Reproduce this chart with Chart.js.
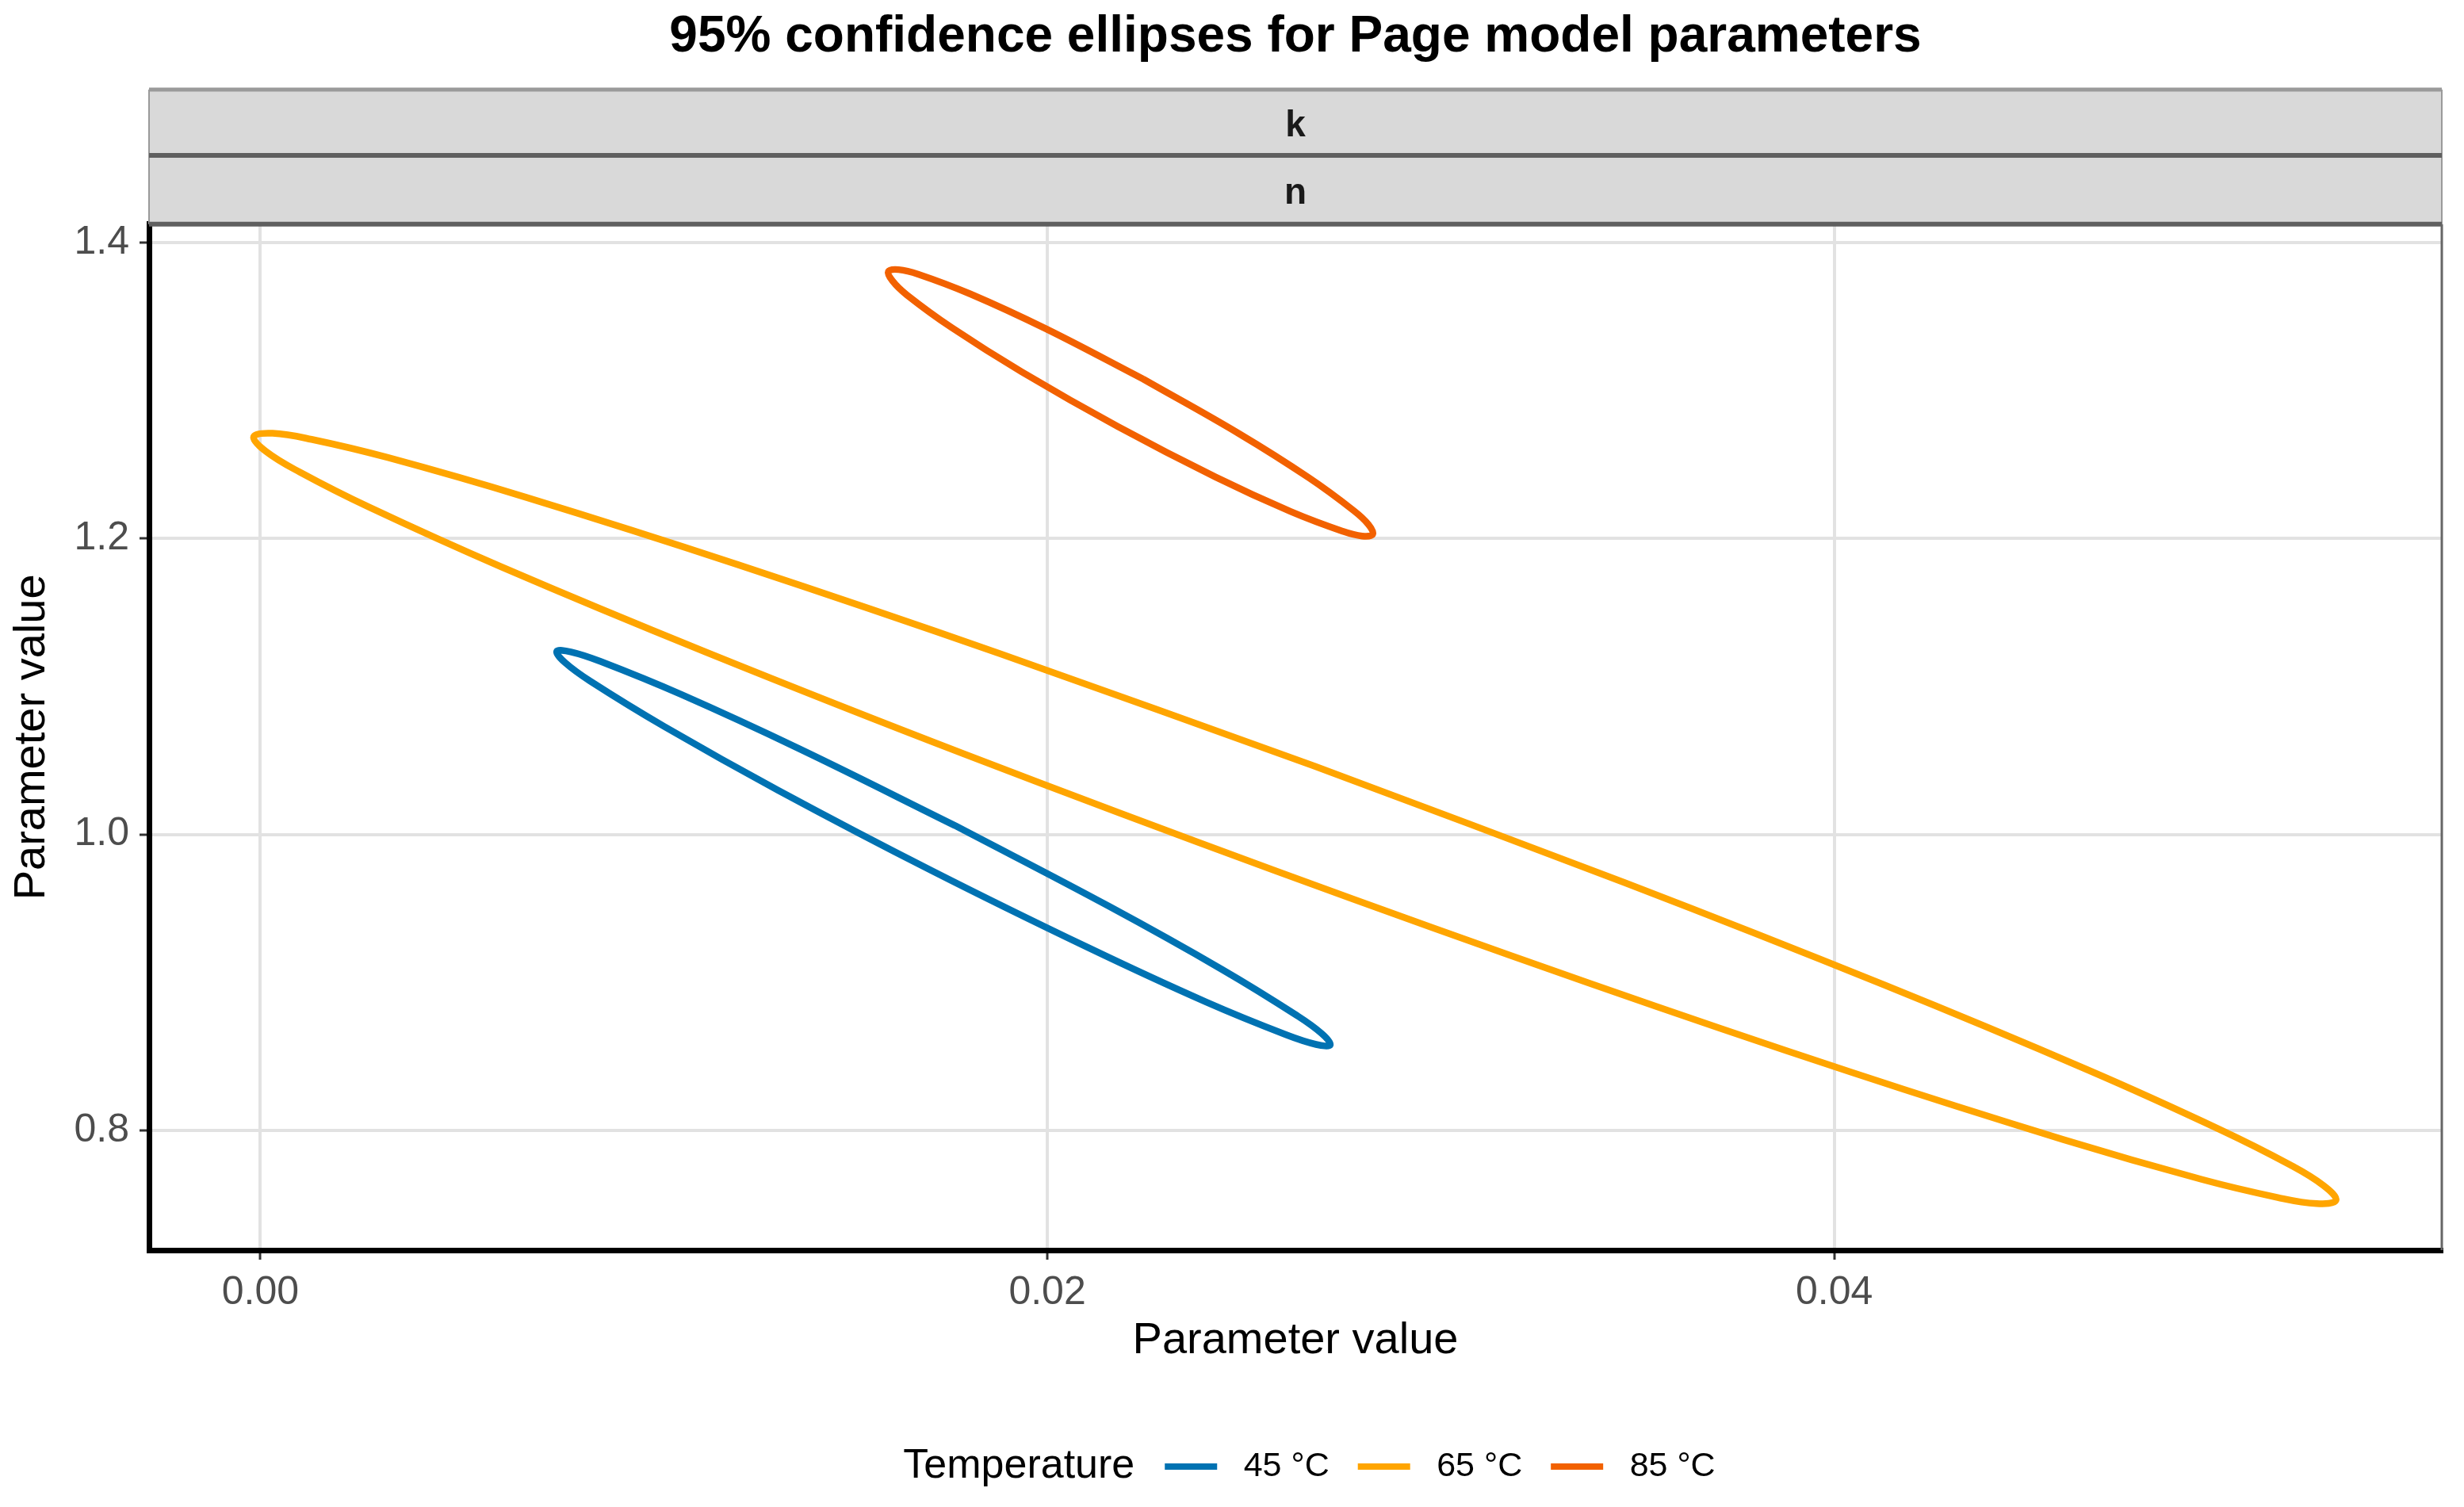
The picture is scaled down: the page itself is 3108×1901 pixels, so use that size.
<!DOCTYPE html>
<html>
<head>
<meta charset="utf-8">
<script src="https://cdn.jsdelivr.net/npm/chart.js@4/dist/chart.umd.min.js"></script>
<style>
  html, body { margin: 0; padding: 0; background: #ffffff; overflow: hidden; }
  canvas { display: block; }
</style>
</head>
<body>
<canvas id="ellipse-chart" width="3108" height="1901"></canvas>
<script>
// values (k on x, n on y), one closed loop per temperature
const tempLabels = ['45 °C', '65 °C', '85 °C'];
const tempColors = ['#0072B2', '#FFA500', '#F26100'];

const kAt45 = [0.01765, 0.02156, 0.02445, 0.02634, 0.02697, 0.02719, 0.02683, 0.02608, 0.02403, 0.02103, 0.01707,
               0.01316, 0.01027, 0.00838, 0.00775, 0.00753, 0.00789, 0.00864, 0.01069, 0.01370, 0.01765];
const nAt45 = [1.0060, 0.9515, 0.9086, 0.8777, 0.8655, 0.8578, 0.8581, 0.8645, 0.8868, 0.9236, 0.9754,
               1.0298, 1.0728, 1.1036, 1.1159, 1.1236, 1.1233, 1.1169, 1.0946, 1.0578, 1.0060];

const kAt65 = [0.02678, 0.03469, 0.04125, 0.04646, 0.04980, 0.05158, 0.05243, 0.05275, 0.05226, 0.05127, 0.04934,
               0.04581, 0.04043, 0.03376, 0.02580, 0.01788, 0.01133, 0.00612, 0.00277, 0.00100, 0.00014,
               -0.00017, 0.00031, 0.00130, 0.00324, 0.00677, 0.01214, 0.01882, 0.02678];
const nAt65 = [1.0462, 0.9672, 0.8985, 0.8407, 0.8006, 0.7768, 0.7628, 0.7528, 0.7506, 0.7547, 0.7669,
               0.7939, 0.8393, 0.8996, 0.9754, 1.0544, 1.1231, 1.1808, 1.2210, 1.2448, 1.2588,
               1.2687, 1.2710, 1.2669, 1.2546, 1.2276, 1.1822, 1.1219, 1.0462];

const kAt85 = [0.02244, 0.02487, 0.02665, 0.02779, 0.02816, 0.02827, 0.02800, 0.02751, 0.02619, 0.02428, 0.02179,
               0.01935, 0.01757, 0.01643, 0.01607, 0.01596, 0.01622, 0.01672, 0.01804, 0.01995, 0.02244];
const nAt85 = [1.3076, 1.2708, 1.2409, 1.2187, 1.2094, 1.2028, 1.2016, 1.2048, 1.2181, 1.2414, 1.2756,
               1.3125, 1.3424, 1.3645, 1.3738, 1.3804, 1.3816, 1.3785, 1.3652, 1.3418, 1.3076];

const xTicks = [0.00, 0.02, 0.04];
const yTicks = [0.8, 1.0, 1.2, 1.4];
const stripLabels = ['k', 'n'];

const FONT = "'Liberation Sans', Arial, sans-serif";

const toPoints = (xs, ys) => xs.map((x, i) => ({x: x, y: ys[i]}));

const makeSet = (i, xs, ys) => ({
    label: tempLabels[i],
    data: toPoints(xs, ys),
    showLine: true,
    borderColor: tempColors[i],
    backgroundColor: tempColors[i],
    borderWidth: 8.5,
    pointRadius: 0,
    tension: 0.4,
    fill: false
});

// grey facet strips above the panel, plus the thin right border
const stripPlugin = {
    id: 'strips',
    afterDraw(chart) {
        const ctx = chart.ctx;
        const a = chart.chartArea;
        const tops = [113, 196];
        const bottoms = [196, a.top];
        ctx.save();
        for (var i = 0; i < 2; i++) {
            ctx.fillStyle = '#d9d9d9';
            ctx.fillRect(a.left, tops[i], a.right - a.left, bottoms[i] - tops[i]);
        }
        ctx.strokeStyle = '#9a9a9a';
        ctx.lineWidth = 5;
        ctx.beginPath(); ctx.moveTo(a.left, 113); ctx.lineTo(a.right, 113); ctx.stroke();
        ctx.lineWidth = 2;
        ctx.beginPath();
        ctx.moveTo(a.left, 113); ctx.lineTo(a.left, a.top);
        ctx.moveTo(a.right, 113); ctx.lineTo(a.right, a.top);
        ctx.stroke();
        ctx.strokeStyle = '#5f5f5f';
        ctx.lineWidth = 6;
        ctx.beginPath(); ctx.moveTo(a.left, 196); ctx.lineTo(a.right, 196); ctx.stroke();
        ctx.beginPath(); ctx.moveTo(a.left, a.top); ctx.lineTo(a.right, a.top); ctx.stroke();
        ctx.strokeStyle = '#666666';
        ctx.lineWidth = 3;
        ctx.beginPath(); ctx.moveTo(a.right, a.top); ctx.lineTo(a.right, a.bottom); ctx.stroke();

        ctx.fillStyle = '#1a1a1a';
        ctx.font = 'bold 46px ' + FONT;
        ctx.textAlign = 'center';
        ctx.textBaseline = 'alphabetic';
        const mid = (a.left + a.right) / 2;
        ctx.fillText(stripLabels[0], mid, 172);
        ctx.fillText(stripLabels[1], mid, 257);

        // legend title sits left of the keys, as in ggplot
        const hb = chart.legend.legendHitBoxes[0];
        if (hb) {
            ctx.fillStyle = '#000000';
            ctx.font = '52px ' + FONT;
            ctx.textAlign = 'right';
            ctx.textBaseline = 'middle';
            ctx.fillText('Temperature', hb.left + hb.width - 2, hb.top + hb.height / 2);
        }
        ctx.restore();
    }
};

const displayChart = () => {
    const ctx = document.getElementById('ellipse-chart').getContext('2d');
    var _ = new Chart(ctx, {
        type: 'scatter',
        data: {
            datasets: [
                makeSet(0, kAt45, nAt45),
                makeSet(1, kAt65, nAt65),
                makeSet(2, kAt85, nAt85)
            ]
        },
        options: {
            responsive: false,
            animation: false,
            devicePixelRatio: 1,
            layout: { padding: { left: 0, right: 28, top: 0, bottom: 19.5 } },
            scales: {
                x: {
                    type: 'linear',
                    min: -0.00283,
                    max: 0.05544,
                    afterBuildTicks: (scale) => { scale.ticks = xTicks.map(v => ({value: v})); },
                    afterFit: (scale) => { scale.height = 215.5; },
                    ticks: {
                        callback: (v) => Number(v).toFixed(2),
                        color: '#4d4d4d',
                        font: { family: FONT, size: 50 },
                        padding: 12,
                        maxRotation: 0
                    },
                    grid: { color: '#e2e2e2', lineWidth: 4, tickLength: 12, tickColor: '#333333', tickWidth: 3 },
                    border: { display: true, color: '#000000', width: 7 },
                    title: {
                        display: true,
                        text: 'Parameter value',
                        color: '#000000',
                        font: { family: FONT, size: 56 },
                        padding: { top: 0, bottom: 67 }
                    }
                },
                y: {
                    type: 'linear',
                    min: 0.7191,
                    max: 1.4123,
                    afterBuildTicks: (scale) => { scale.ticks = yTicks.map(v => ({value: v})); },
                    afterFit: (scale) => { scale.width = 188; },
                    ticks: {
                        callback: (v) => Number(v).toFixed(1),
                        color: '#4d4d4d',
                        font: { family: FONT, size: 50 },
                        padding: 13
                    },
                    grid: { color: '#e2e2e2', lineWidth: 4, tickLength: 12, tickColor: '#333333', tickWidth: 3 },
                    border: { display: true, color: '#000000', width: 7 },
                    title: {
                        display: true,
                        text: 'Parameter value',
                        color: '#000000',
                        font: { family: FONT, size: 56 },
                        padding: { top: 7, bottom: 0 }
                    }
                }
            },
            plugins: {
                title: {
                    display: true,
                    text: '95% confidence ellipses for Page model parameters',
                    color: '#000000',
                    font: { family: FONT, size: 64, weight: 'bold' },
                    padding: { top: 9, bottom: 197 },
                    fullSize: false
                },
                legend: {
                    position: 'bottom',
                    fullSize: false,
                    onClick: () => {},
                    labels: {
                        boxWidth: 66,
                        boxHeight: 8,
                        padding: 36,
                        color: '#000000',
                        font: { family: FONT, size: 43 },
                        generateLabels: (chart) => {
                            var items = [{
                                text: 'Temperature', fillStyle: 'rgba(0,0,0,0)', strokeStyle: 'rgba(0,0,0,0)',
                                lineWidth: 0, fontColor: 'rgba(0,0,0,0)', hidden: false, datasetIndex: -1
                            }];
                            chart.data.datasets.forEach((ds, i) => {
                                items.push({
                                    text: ' ' + ds.label, fillStyle: ds.borderColor, strokeStyle: ds.borderColor,
                                    lineWidth: 0, fontColor: '#000000', hidden: false, datasetIndex: i
                                });
                            });
                            return items;
                        }
                    }
                },
                tooltip: { enabled: false }
            }
        },
        plugins: [stripPlugin]
    });
}
displayChart();
</script>
</body>
</html>
